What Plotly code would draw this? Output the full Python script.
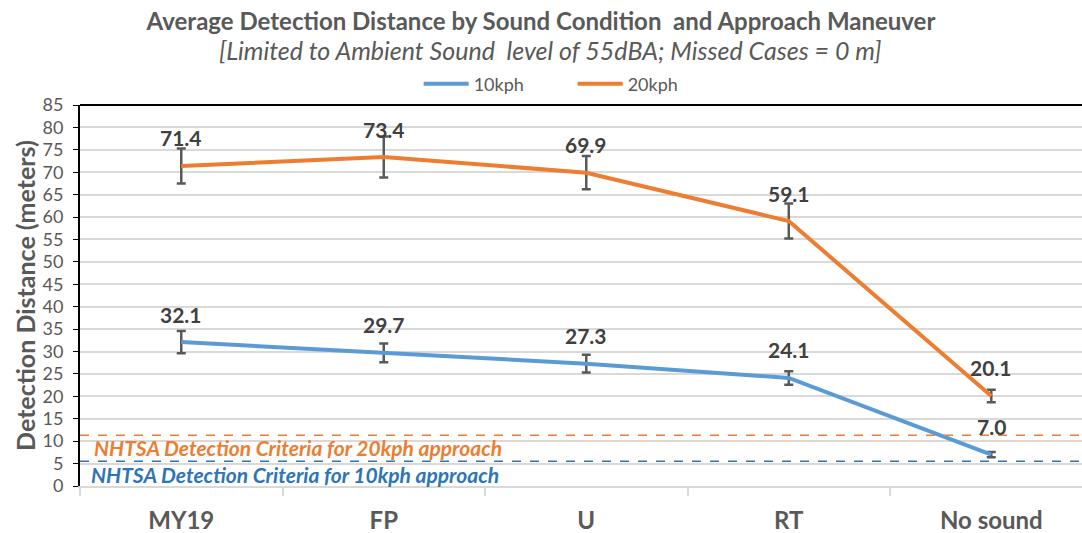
import plotly.graph_objects as go

# data
categories = ["MY19", "FP", "U", "RT", "No sound"]
kph10 = [32.1, 29.7, 27.3, 24.1, 7.0]
kph20 = [71.4, 73.4, 69.9, 59.1, 20.1]
kph10_err = [2.5, 2.1, 2.0, 1.5, 0.6]
kph20_err = [3.9, 4.6, 3.7, 3.9, 1.4]
criteria_20 = 11.3
criteria_10 = 5.5

BLUE = "#5B9BD5"
ORANGE = "#ED7D31"
DARK_BLUE = "#2E75B6"
GRAY = "#595959"
FONT = "Lato"

fig = go.Figure()

for name, vals, err, color in [
    ("10kph", kph10, kph10_err, BLUE),
    ("20kph", kph20, kph20_err, ORANGE),
]:
    fig.add_trace(
        go.Scatter(
            x=categories,
            y=vals,
            mode="lines",
            name=name,
            line=dict(color=color, width=4),
            error_y=dict(type="data", array=err, visible=True, color=GRAY, thickness=2.5, width=4.5),
        )
    )
    # value labels above each point
    for c, v in zip(categories, vals):
        fig.add_annotation(
            x=c, y=v, text=f"{v:.1f}", showarrow=False, yshift=28,
            font=dict(family=FONT, size=21, color="#404040", weight="bold"),
        )

# NHTSA criteria reference lines
shapes = [
    dict(type="line", xref="paper", yref="y", x0=0, x1=1, y0=criteria_20, y1=criteria_20,
         line=dict(color=ORANGE, width=1.5, dash="dash")),
    dict(type="line", xref="paper", yref="y", x0=0, x1=1, y0=criteria_10, y1=criteria_10,
         line=dict(color=DARK_BLUE, width=1.5, dash="dash")),
    # black border at top of plot area
    dict(type="line", xref="paper", yref="paper", x0=0, x1=1, y0=1, y1=1,
         line=dict(color="black", width=2)),
]

fig.add_annotation(
    xref="paper", yref="y", x=0.012, y=criteria_10, yanchor="bottom", yshift=-1, xanchor="left",
    text="<i>NHTSA Detection Criteria for 20kph approach</i>", showarrow=False,
    font=dict(family=FONT, size=21, color=ORANGE, weight="bold"),
)
fig.add_annotation(
    xref="paper", yref="y", x=0.009, y=criteria_10 / 2 - 0.1, xanchor="left",
    text="<i>NHTSA Detection Criteria for 10kph approach</i>", showarrow=False,
    font=dict(family=FONT, size=21, color=DARK_BLUE, weight="bold"),
)

# subtitle
fig.add_annotation(
    xref="paper", yref="paper", x=0.47, y=1.145, yanchor="middle",
    text="<i>[Limited to Ambient Sound  level of 55dBA; Missed Cases = 0 m]</i>", showarrow=False,
    font=dict(family=FONT, size=25, color=GRAY),
)

fig.update_layout(
    width=1082,
    height=533,
    margin=dict(l=80, r=0, t=105, b=47),
    paper_bgcolor="white",
    plot_bgcolor="white",
    title=dict(
        text="<b>Average Detection Distance by Sound Condition  and Approach Maneuver</b>",
        x=0.5, xanchor="center", y=0.959, yanchor="middle",
        font=dict(family=FONT, size=24, color=GRAY),
    ),
    xaxis=dict(
        type="category",
        range=[-0.5, 4.448],
        showgrid=False,
        showline=True,
        linecolor="#D9D9D9",
        linewidth=1.5,
        ticks="outside",
        tickson="boundaries",
        ticklen=8,
        tickcolor="#D9D9D9",
        tickwidth=1.5,
        tickfont=dict(family=FONT, size=24, color=GRAY, weight="bold"),
        ticklabelstandoff=12,
    ),
    yaxis=dict(
        range=[0, 85],
        dtick=5,
        showgrid=True,
        gridcolor="#D9D9D9",
        gridwidth=1.5,
        zeroline=False,
        showline=True,
        linecolor="black",
        linewidth=2,
        ticks="outside",
        ticklen=5,
        tickcolor="black",
        tickfont=dict(family=FONT, size=18, color=GRAY),
        ticklabelstandoff=6,
        title=dict(text="<b>Detection Distance (meters)</b>", font=dict(family=FONT, size=25, color=GRAY), standoff=0),
    ),
    legend=dict(
        orientation="h",
        x=0.338, xanchor="left",
        y=1.055, yanchor="middle",
        font=dict(family=FONT, size=18, color=GRAY),
        itemwidth=45,
        entrywidth=94,
        entrywidthmode="pixels",
        bgcolor="rgba(0,0,0,0)",
    ),
    shapes=shapes,
    showlegend=True,
)

# remove the default page margin so the figure sits at the top-left corner
fig.write_html(
    "out.html",
    config={"displayModeBar": False},
    post_script="document.body.style.margin='0';",
)
